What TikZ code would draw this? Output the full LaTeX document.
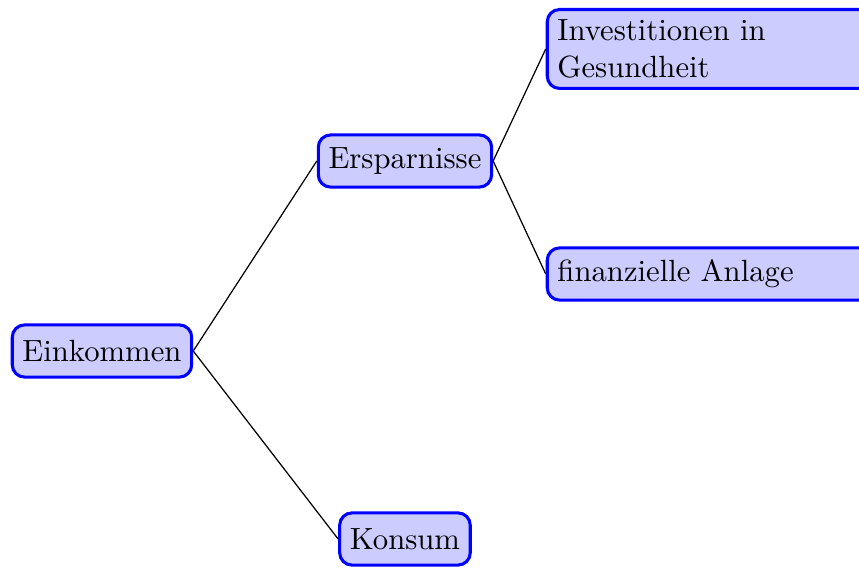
\documentclass[tikz,border=0pt]{standalone}
\usepackage{tikz}

\begin{document}
\begin{tikzpicture}[
		box/.style={draw=blue,fill=blue!20,line width=1pt,rounded corners,minimum height=17pt},
		widebox/.style={box,text width=3.5cm,align=left,anchor=west}
	]
			\useasboundingbox (0,0) rectangle (9.838,-6.494);

			% Root
			\node[box] (income) at (1.168,-4.020) {Einkommen};

			% First level
			\node[box] (savings) at (4.638,-1.844) {Ersparnisse};
			\node[box] (consumption) at (4.638,-6.173) {Konsum};

			% Second level
			\node[widebox] (health) at (6.25,-0.561) {Investitionen in Gesundheit};
			\node[widebox] (finance) at (6.25,-3.138) {finanzielle Anlage};

			% Edges
			\draw (income.east) -- (savings.west);
			\draw (income.east) -- (consumption.west);
			\draw (savings.east) -- (health.west);
			\draw (savings.east) -- (finance.west);
		\end{tikzpicture}
\end{document}
